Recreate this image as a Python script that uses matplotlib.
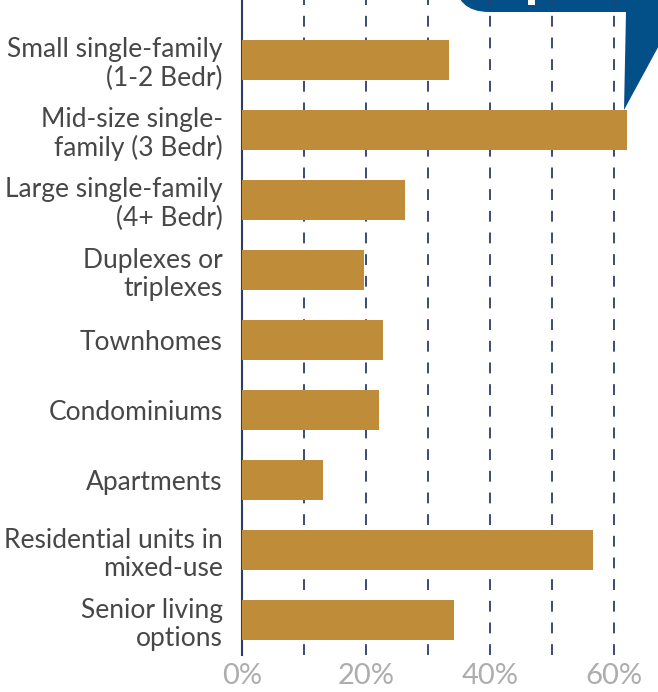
import matplotlib.pyplot as plt
from matplotlib.patches import FancyBboxPatch, Polygon, Rectangle

categories = [
    "Small single-family\n(1-2 Bedr)",
    "Mid-size single-\nfamily (3 Bedr)",
    "Large single-family\n(4+ Bedr)",
    "Duplexes or\ntriplexes",
    "Townhomes",
    "Condominiums",
    "Apartments",
    "Residential units in\nmixed-use",
    "Senior living\noptions",
]
shares = [0.334, 0.621, 0.263, 0.197, 0.227, 0.221, 0.131, 0.566, 0.342]
xticks = [0.0, 0.2, 0.4, 0.6]
xtick_labels = ["0%", "20%", "40%", "60%"]

W, H = 658, 692
BAR = "#BF8C3A"
NAVY = "#2E3D66"
BLUE = "#035089"

plt.rcParams["font.family"] = ["Lato", "DejaVu Sans"]
fig = plt.figure(figsize=(W / 100, H / 100), dpi=100)

# main chart, deliberately running off the top and right edges
ax = fig.add_axes([242 / W, 37 / H, 434 / W, 665 / H])
ypos = list(range(len(categories)))
ax.barh(ypos, shares, height=0.57, color=BAR, zorder=3)
ax.set_ylim(8.5, -1.0)
ax.set_xlim(0, 0.70)

for gx in [0.1, 0.2, 0.3, 0.4, 0.5, 0.6]:
    ax.axvline(gx, color=NAVY, lw=1.3, ls=(0, (6, 6)), zorder=1)

ax.set_yticks(ypos)
ax.set_yticklabels(categories, fontsize=19, color="#474747", linespacing=1.15)
ax.set_xticks(xticks)
ax.set_xticklabels(xtick_labels, fontsize=21, color="#ADADAD")
ax.tick_params(axis="both", length=0)
ax.tick_params(axis="y", pad=14)
ax.tick_params(axis="x", pad=6)
for lbl in ax.get_yticklabels():
    lbl.set_horizontalalignment("right")
    lbl.set_multialignment("right")

for side in ["top", "right", "bottom"]:
    ax.spines[side].set_visible(False)
ax.spines["left"].set_color(NAVY)
ax.spines["left"].set_linewidth(1.5)

# callout box with its pointer in the top right corner
ov = fig.add_axes([0, 0, 1, 1], facecolor="none")
ov.set_xlim(0, W)
ov.set_ylim(H, 0)
ov.axis("off")
ov.add_patch(FancyBboxPatch((455, -80), 300, 92,
                            boxstyle="round,pad=0,rounding_size=34",
                            fc=BLUE, ec="none"))
ov.add_patch(Rectangle((420, 12), 206, 98, fc="white", ec="none", zorder=0))
ov.add_patch(Polygon([(626, 12), (700, 12), (700, -30), (624, 110)],
                     closed=True, fc=BLUE, ec="none"))
ov.add_patch(Rectangle((528, 0), 7, 5, fc="white", ec="none"))

# keep the gridlines and bars in front of the white panel
ax.set_zorder(2)
ax.patch.set_alpha(0)
ov.set_zorder(1)

fig.savefig("out.png", dpi=100)
